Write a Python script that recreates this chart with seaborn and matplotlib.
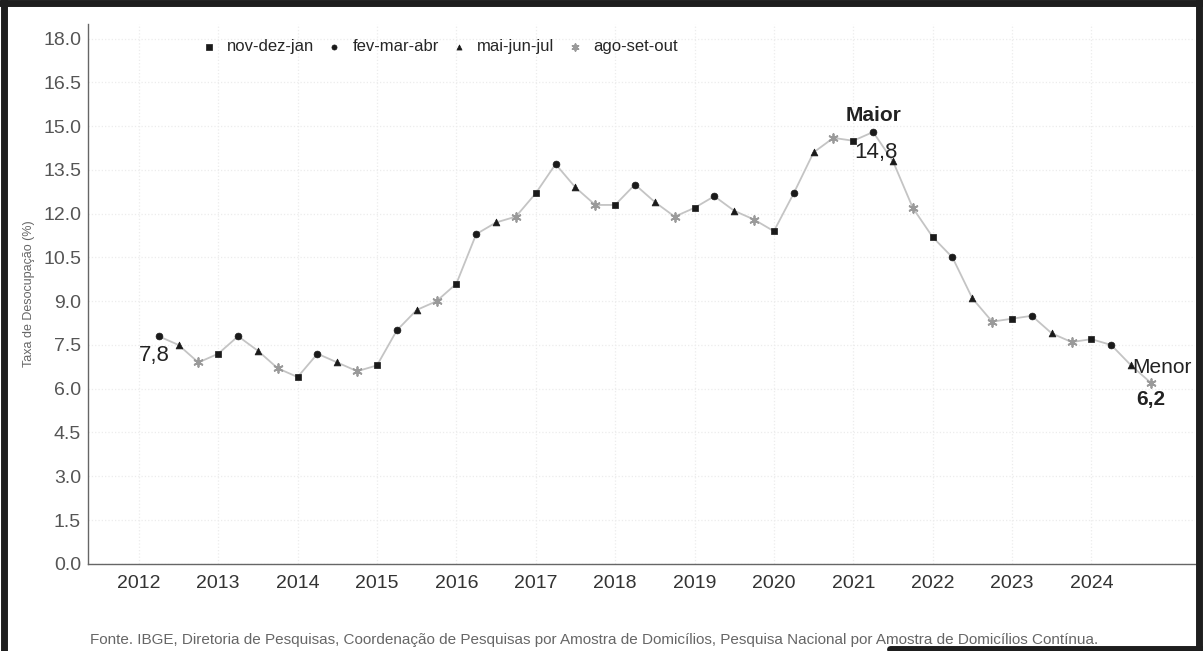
import pandas as pd
import matplotlib.pyplot as plt
import seaborn as sns
from matplotlib.lines import Line2D

# Taxa de desocupação trimestral (PNAD Contínua), a partir de fev-mar-abr 2012
taxa = [7.8, 7.5, 6.9,
        7.2, 7.8, 7.3, 6.7,
        6.4, 7.2, 6.9, 6.6,
        6.8, 8.0, 8.7, 9.0,
        9.6, 11.3, 11.7, 11.9,
        12.7, 13.7, 12.9, 12.3,
        12.3, 13.0, 12.4, 11.9,
        12.2, 12.6, 12.1, 11.8,
        11.4, 12.7, 14.1, 14.6,
        14.5, 14.8, 13.8, 12.2,
        11.2, 10.5, 9.1, 8.3,
        8.4, 8.5, 7.9, 7.6,
        7.7, 7.5, 6.8, 6.2]
trimestres = ['nov-dez-jan', 'fev-mar-abr', 'mai-jun-jul', 'ago-set-out']
anos = list(range(2012, 2025))
yticks = [i * 1.5 for i in range(13)]
fonte = ('Fonte. IBGE, Diretoria de Pesquisas, Coordenação de Pesquisas por Amostra de Domicílios, '
         'Pesquisa Nacional por Amostra de Domicílios Contínua.')

# x = ano + fração do trimestre (nov-dez-jan cai no início do ano)
df = pd.DataFrame({
    'tempo': [2012 + (i + 1) / 4 for i in range(len(taxa))],
    'taxa': taxa,
    'trimestre': [trimestres[(i + 1) % 4] for i in range(len(taxa))],
})

estilo = {'nov-dez-jan': ('s', '#1a1a1a'), 'fev-mar-abr': ('o', '#1a1a1a'),
          'mai-jun-jul': ('^', '#1a1a1a'), 'ago-set-out': ((6, 2, 0), '#9a9a9a')}

sns.set_style('white')
plt.rcParams['font.family'] = ['Liberation Sans', 'DejaVu Sans']

fig = plt.figure(figsize=(12.03, 6.51), dpi=100)
ax = fig.add_axes([0.0732, 0.134, 0.9198, 0.829])

sns.lineplot(x='tempo', y='taxa', data=df, color='#c4c4c4', linewidth=1.3, ax=ax, zorder=2)
for t in trimestres:
    mk, cor = estilo[t]
    sub = df[df['trimestre'] == t]
    if t == 'ago-set-out':
        sns.scatterplot(x='tempo', y='taxa', data=sub, marker=mk, color=cor, s=40,
                        linewidth=1.3, label=t, ax=ax, zorder=3)
    else:
        sns.scatterplot(x='tempo', y='taxa', data=sub, marker=mk, color=cor, s=24,
                        edgecolor=cor, linewidth=0.5, label=t, ax=ax, zorder=3)

ax.legend(ncol=4, frameon=False, loc='upper left',
          bbox_to_anchor=(0.085, 1.0), fontsize=12, handletextpad=0.4,
          columnspacing=0.5, handlelength=1.4, markerscale=0.75)

# destaques
ini = df.iloc[0]
mx = df.loc[df['taxa'].idxmax()]
mn = df.loc[df['taxa'].idxmin()]
ax.annotate('7,8', (ini['tempo'], ini['taxa']), xytext=(-3, -6),
            textcoords='offset points', ha='center', va='top', fontsize=16, color='#222222')
ax.annotate('Maior', (mx['tempo'], mx['taxa']), xytext=(0, 5),
            textcoords='offset points', ha='center', va='bottom', fontsize=15,
            fontweight='bold', color='#222222')
ax.annotate('14,8', (mx['tempo'], mx['taxa']), xytext=(2, -7),
            textcoords='offset points', ha='center', va='top', fontsize=16, color='#222222')
ax.annotate('Menor', (mn['tempo'], mn['taxa']), xytext=(8, 4),
            textcoords='offset points', ha='center', va='bottom', fontsize=15, color='#222222')
ax.annotate('6,2', (mn['tempo'], mn['taxa']), xytext=(0, -5),
            textcoords='offset points', ha='center', va='top', fontsize=15,
            fontweight='bold', color='#222222')

ax.set_xlim(2011.36, 2025.3)
ax.set_ylim(0, 18.5)
ax.set_xticks(anos)
ax.set_xticklabels([str(a) for a in anos], fontsize=14, color='#333333')
ax.set_yticks(yticks)
ax.set_yticklabels([f'{v:.1f}' for v in yticks], fontsize=14, color='#555555')
ax.set_xlabel('')
ax.set_ylabel('Taxa de Desocupação (%)', fontsize=9, color='#666666', labelpad=6)
ax.grid(True, color='#ececec', linestyle=':', linewidth=0.9)
ax.tick_params(axis='y', length=3, color='#777777', pad=2)
ax.tick_params(axis='x', length=0, pad=8)
for side in ['top', 'right']:
    ax.spines[side].set_visible(False)
for side in ['left', 'bottom']:
    ax.spines[side].set_color('#666666')
    ax.spines[side].set_linewidth(1.0)

fig.text(0.075, 0.017, fonte, ha='left', va='center', fontsize=11, color='#666666')

# moldura escura da página digitalizada
for xs, ys in [([0.003, 0.003], [0, 1]), ([0, 1], [0.995, 0.995]),
               ([0.997, 0.997], [0, 1]), ([0.74, 1], [0.003, 0.003])]:
    fig.add_artist(Line2D(xs, ys, transform=fig.transFigure, color='#1e1e1e', linewidth=5))

fig.savefig('out.png', dpi=100)
